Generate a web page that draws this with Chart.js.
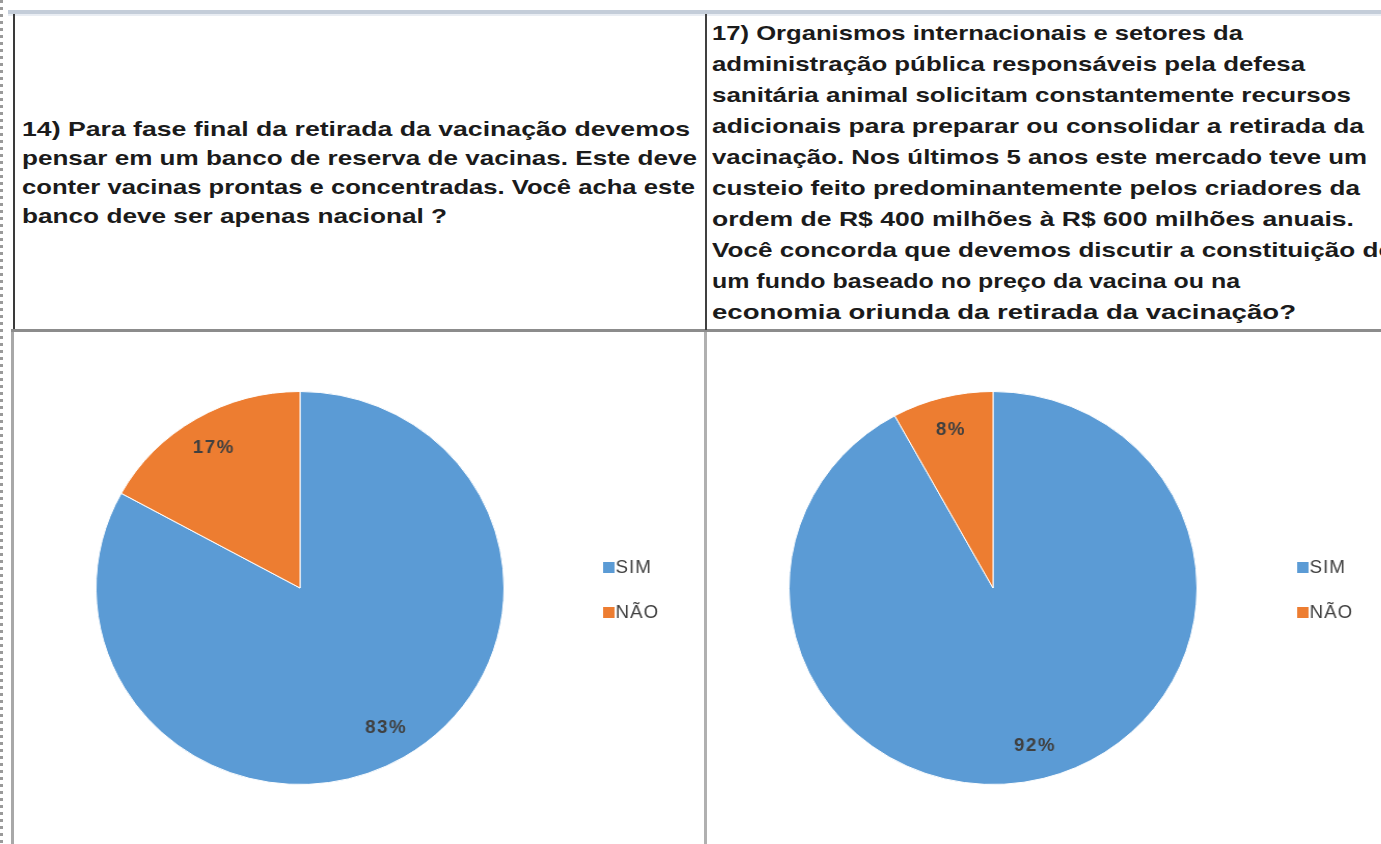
<!DOCTYPE html>
<html>
<head>
<meta charset="utf-8">
<script src="https://cdn.jsdelivr.net/npm/chart.js@4"></script>
<style>
  html, body { margin:0; padding:0; background:#fff; }
  body { width:1381px; height:844px; overflow:hidden; position:relative; font-family:"Liberation Sans", Arial, sans-serif; }
  .abs { position:absolute; }
  .hline { position:absolute; white-space:nowrap; font-weight:bold; color:#1b1b1b; font-size:21px; transform-origin:0 50%; }
  .wrap { position:absolute; transform-origin:0 0; }
</style>
</head>
<body>
<!-- sheet grid decoration -->
<div class="abs" style="left:0;top:0;width:3px;height:844px;background:repeating-linear-gradient(to bottom,#9a9a9a 0 3px,transparent 3px 7px);"></div>
<div class="abs" style="left:8px;top:10px;width:1373px;height:4px;background:#c4cdd9;"></div>
<div class="abs" style="left:8px;top:14px;width:1373px;height:2px;background:#e9edf3;"></div>

<div id="hdr"></div>

<div class="abs" style="left:13px;top:14px;width:2px;height:318px;background:#3a3a3a;"></div>
<div class="abs" style="left:11px;top:332px;width:3px;height:512px;background:#a8a8a8;"></div>
<div class="abs" style="left:11px;top:329px;width:1370px;height:3px;background:#8c8c8c;"></div>
<div class="abs" style="left:705px;top:14px;width:2px;height:316px;background:#404040;"></div>
<div class="abs" style="left:704px;top:332px;width:3px;height:512px;background:#b0b0b0;"></div>

<div class="wrap" id="w1" style="left:14px;top:332px;width:692px;height:512px;">
  <canvas id="c1" width="692" height="512"></canvas>
</div>
<div class="wrap" id="w2" style="left:708px;top:332px;width:673px;height:512px;overflow:visible;">
  <canvas id="c2" width="673" height="512"></canvas>
</div>

<script>
// ---- data ----
const categories = ['SIM', 'NÃO'];
const q14Values = [83, 17];
const q17Values = [92, 8];
const q14Title = [
  '14) Para fase final da retirada da vacinação devemos',
  'pensar em um banco de reserva de vacinas. Este deve',
  'conter vacinas prontas e concentradas. Você acha este',
  'banco deve ser apenas nacional ?'
];
const q17Title = [
  '17) Organismos internacionais e setores da',
  'administração pública responsáveis pela defesa',
  'sanitária animal solicitam constantemente recursos',
  'adicionais para preparar ou consolidar a retirada da',
  'vacinação. Nos últimos 5 anos este mercado teve um',
  'custeio feito predominantemente pelos criadores da',
  'ordem de R$ 400 milhões à R$ 600 milhões anuais.',
  'Você concorda que devemos discutir a constituição de',
  'um fundo baseado no preço da vacina ou na',
  'economia oriunda da retirada da vacinação?'
];
const colors = ['#5b9bd5', '#ed7d31'];

// ---- header text (layout: right edge of each line in the sheet) ----
const q14LineEnds = [690, 697, 695, 447];
const q17LineEnds = [1243, 1305, 1351, 1364, 1367, 1360, 1354, null, 1240, 1296];
const hdr = document.getElementById('hdr');
const mctx = document.createElement('canvas').getContext('2d');
mctx.font = 'bold 21px "Liberation Sans", Arial, sans-serif';
function addLines(lines, ends, x, y0, lh) {
  const scales = lines.map((t, i) => ends[i] ? (ends[i] - x) / mctx.measureText(t).width : null);
  const known = scales.filter(s => s !== null);
  const avg = known.reduce((a, b) => a + b, 0) / known.length;
  lines.forEach((t, i) => {
    const d = document.createElement('div');
    d.className = 'hline';
    d.textContent = t;
    d.style.left = x + 'px';
    d.style.top = (y0 + i * lh - 12) + 'px';
    d.style.lineHeight = '24px';
    d.style.transform = 'scaleX(' + (scales[i] || avg).toFixed(4) + ')';
    hdr.appendChild(d);
  });
}
addLines(q14Title, q14LineEnds, 22, 129, 29);
addLines(q17Title, q17LineEnds, 712, 33, 31);

// ---- charts ----
const STRETCH = 1.038;
function setupWrap(id, cx) {
  const w = document.getElementById(id);
  w.style.transformOrigin = cx + 'px 256px';
  w.style.transform = 'scaleX(' + STRETCH + ')';
}
setupWrap('w1', 286);
setupWrap('w2', 285);

const labelPlugin = {
  id: 'pctLabels',
  afterDatasetsDraw(chart) {
    const ctx = chart.ctx;
    const meta = chart.getDatasetMeta(0);
    const vals = chart.data.datasets[0].data;
    const total = vals.reduce((a, b) => a + b, 0);
    ctx.save();
    ctx.font = 'bold 18px "Liberation Sans", Arial, sans-serif';
    ctx.letterSpacing = '1.5px';
    ctx.fillStyle = '#404040';
    ctx.textAlign = 'center';
    ctx.textBaseline = 'middle';
    meta.data.forEach((arc, i) => {
      const p = arc.getProps(['x', 'y', 'startAngle', 'endAngle', 'outerRadius'], true);
      const mid = (p.startAngle + p.endAngle) / 2;
      const r = p.outerRadius * 0.83;
      const txt = Math.round(vals[i] / total * 100) + '%';
      ctx.fillText(txt, p.x + Math.cos(mid) * r, p.y + Math.sin(mid) * r);
    });
    ctx.restore();
  }
};

const legendPlugin = {
  id: 'sideLegend',
  afterDraw(chart, args, opts) {
    const ctx = chart.ctx;
    ctx.save();
    ctx.font = '18px "Liberation Sans", Arial, sans-serif';
    ctx.letterSpacing = '1px';
    ctx.textBaseline = 'middle';
    ctx.textAlign = 'left';
    chart.data.labels.forEach((lab, i) => {
      const y = opts.y + i * opts.gap;
      ctx.fillStyle = chart.data.datasets[0].backgroundColor[i];
      ctx.fillRect(opts.x, y - 5, 11, 11);
      ctx.fillStyle = '#404040';
      ctx.fillText(lab, opts.x + 12, y + 1);
    });
    ctx.restore();
  }
};

function makePie(id, values, pad, legendX) {
  return new Chart(document.getElementById(id), {
    type: 'pie',
    data: {
      labels: categories,
      datasets: [{
        data: values,
        backgroundColor: colors,
        borderColor: '#ffffff',
        borderWidth: 1
      }]
    },
    options: {
      responsive: false,
      animation: false,
      devicePixelRatio: 1,
      layout: { padding: pad },
      plugins: {
        legend: { display: false },
        tooltip: { enabled: false },
        sideLegend: { x: legendX, y: 235, gap: 45 }
      }
    },
    plugins: [labelPlugin, legendPlugin]
  });
}

makePie('c1', q14Values, { left: 89, right: 209, top: 59, bottom: 59 }, 578);
makePie('c2', q17Values, { left: 88, right: 191, top: 59, bottom: 59 }, 578);
</script>
</body>
</html>
